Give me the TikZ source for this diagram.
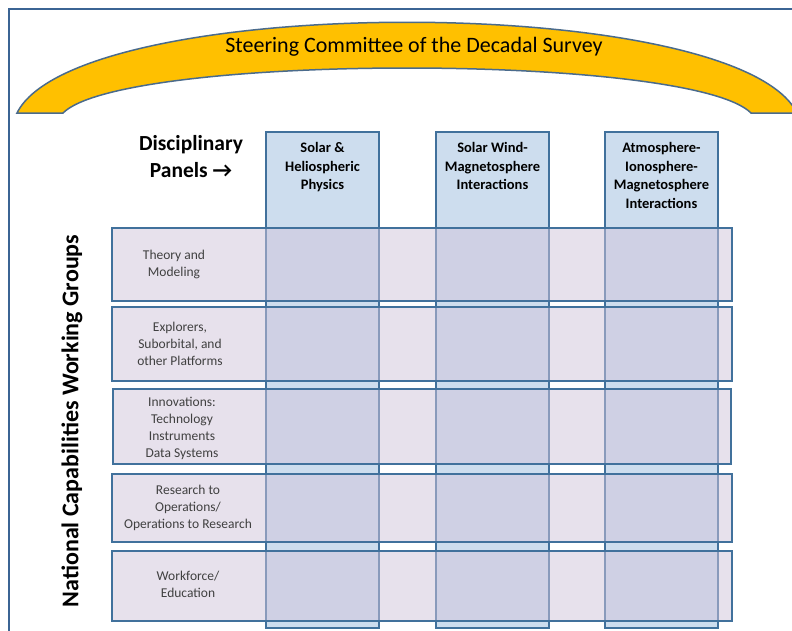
\documentclass[tikz,border=0pt]{standalone}
\usepackage{fontspec}
\setmainfont{Carlito}
\definecolor{frameblue}{RGB}{59,100,148}
\definecolor{boxblue}{RGB}{65,113,156}
\definecolor{gold}{RGB}{255,192,0}
\definecolor{archline}{RGB}{74,107,140}
\definecolor{colfill}{RGB}{205,221,238}
\definecolor{rowfill}{RGB}{209,196,219}
\definecolor{rowtext}{RGB}{64,64,64}
\tikzset{
  frameline/.style={draw=frameblue, line width=2.5pt},
  archband/.style={fill=gold, draw=archline, line width=1.5pt},
  colbox/.style={draw=boxblue, line width=2pt, fill=colfill, anchor=north west, inner sep=0pt, minimum width=113pt, minimum height=496pt},
  rowbox/.style={draw=boxblue, line width=2pt, fill=rowfill, fill opacity=0.5, anchor=north west, inner sep=0pt},
  headtext/.style={font=\bfseries\fontsize{14.5}{18.7}\selectfont, align=center, anchor=north, inner sep=0pt},
  rowlabel/.style={font=\fontsize{13.5}{17}\selectfont, text=rowtext, align=center, inner sep=0pt},
  titletext/.style={font=\fontsize{22}{24}\selectfont, inner sep=0pt},
  bigbold/.style={font=\bfseries\fontsize{21.5}{27}\selectfont, align=center, inner sep=0pt},
  sidebold/.style={font=\bfseries\fontsize{24}{28}\selectfont, inner sep=0pt},
}
\begin{document}
\begin{tikzpicture}[x=1pt,y=-1pt]
\useasboundingbox (0,0) rectangle (792,630);
\clip (0,0) rectangle (792,630);
\fill[white] (0,0) rectangle (792,630);
% frame
\draw[frameline] (9,9) rectangle (810,650);
% arch
\draw[archband] (17,113) .. controls (77,-8) and (737,-8) .. (797,113)
  -- (751,113) .. controls (691,53) and (123,53) .. (63,113) -- cycle;
\node[titletext] (title) at (414,47) {Steering Committee of the Decadal Survey};
% disciplinary panels
\node[bigbold] (panels) at (191,157) {Disciplinary\\Panels →};
% columns
\node[colbox] (c1) at (265,131) {};
\node[colbox] (c2) at (435,131) {};
\node[colbox] (c3) at (604,131) {};
\node[headtext] (h1) at ([yshift=-11pt]c1.north) {Solar \&\\Heliospheric\\Physics};
\node[headtext] (h2) at ([yshift=-11pt]c2.north) {Solar Wind-\\Magnetosphere\\Interactions};
\node[headtext] (h3) at ([yshift=-11pt]c3.north) {Atmosphere-\\Ionosphere-\\Magnetosphere\\Interactions};
% rows
\node[rowbox, minimum width=620pt, minimum height=73pt] (r1) at (111,227) {};
\node[rowbox, minimum width=620pt, minimum height=74pt] (r2) at (111,306) {};
\node[rowbox, minimum width=618pt, minimum height=75pt] (r3) at (112,388) {};
\node[rowbox, minimum width=620pt, minimum height=68pt] (r4) at (111,473) {};
\node[rowbox, minimum width=620pt, minimum height=70pt] (r5) at (111,550) {};
\node[rowlabel] (t1) at (174,264) {Theory and\\Modeling};
\node[rowlabel] (t2) at (180,344) {Explorers,\\Suborbital, and\\other Platforms};
\node[rowlabel] (t3) at (182,428) {Innovations:\\Technology\\Instruments\\Data Systems};
\node[rowlabel] (t4) at (188,508) {Research to\\Operations/\\Operations to Research};
\node[rowlabel] (t5) at (188,584) {Workforce/\\Education};
% side label
\node[sidebold, rotate=90] (ncwg) at (72,421) {National Capabilities Working Groups};
\end{tikzpicture}
\end{document}
